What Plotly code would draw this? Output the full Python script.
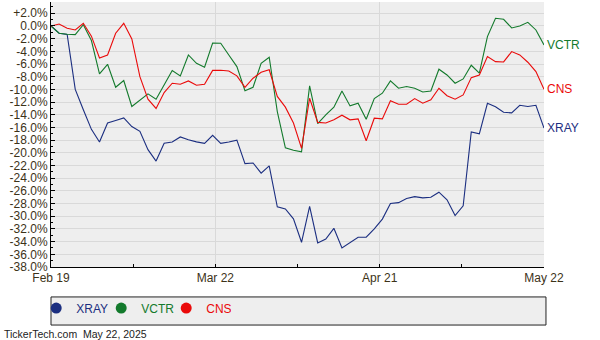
import plotly.graph_objects as go

# ---- data (percent change since Feb 19, one value per session) ----
xray = [0.0, -1.15, -1.35, -10.0, -13.2, -16.3, -18.3, -15.3, -14.9, -14.5,
        -15.85, -16.6, -19.5, -21.3, -18.5, -18.3, -17.5, -17.95, -18.27, -18.5,
        -17.25, -18.5, -18.3, -18.0, -21.7, -21.6, -23.2, -22.05, -28.5, -28.85,
        -30.4, -34.1, -28.45, -34.2, -33.6, -31.9, -35.0, -34.2, -33.3, -33.3,
        -32.0, -30.45, -28.0, -27.85, -27.2, -26.9, -27.1, -27.0, -26.2, -27.4,
        -29.9, -28.35, -16.7, -17.0, -12.2, -12.75, -13.6, -13.7, -12.5, -12.7,
        -12.5, -16.1]
vctr = [0.0, -1.15, -1.3, -1.36, 0.2, -2.3, -7.56, -6.04, -9.66, -8.6,
        -12.7, -11.65, -10.7, -11.55, -9.3, -7.03, -7.87, -4.57, -5.88, -6.5,
        -2.7, -2.73, -4.57, -6.4, -10.2, -9.66, -5.88, -4.93, -13.5, -19.2,
        -19.6, -19.85, -9.45, -15.4, -14.0, -12.8, -10.24, -12.6, -12.18, -14.7,
        -11.45, -10.6, -8.66, -9.82, -9.55, -9.82, -10.4, -10.24, -6.82, -7.72,
        -9.03, -8.35, -6.19, -7.45, -1.68, 1.21, 1.05, -0.31, 0.0, 0.58,
        -0.63, -2.99]
cns = [0.0, 0.3, -0.37, -0.63, 0.42, -1.6, -5.04, -4.57, -1.15, 0.42,
       -2.05, -8.0, -11.55, -13.0, -10.5, -9.03, -9.19, -8.66, -9.34, -9.19,
       -7.0, -6.98, -7.09, -7.87, -9.66, -8.24, -7.3, -6.9, -11.1, -12.8,
       -15.3, -19.3, -11.4, -15.2, -15.3, -14.8, -14.07, -14.8, -14.65, -18.1,
       -14.54, -14.65, -11.8, -12.34, -12.34, -11.44, -12.18, -11.65, -9.82, -11.0,
       -11.55, -10.87, -8.14, -7.72, -4.83, -5.62, -5.67, -4.04, -4.57, -5.72,
       -7.19, -9.97]

tick_labels = ["Feb 19", "Mar 22", "Apr 21", "May 22"]
y_ticks = list(range(-38, 3, 2))

names = ["XRAY", "VCTR", "CNS"]
series = [xray, vctr, cns]
colors = ["#1b2e80", "#137a2c", "#ea0a0a"]

n = len(xray)
x = list(range(n))
last = n - 1
major_x = [last * k / 3 for k in range(4)]
minor_x = [last * (2 * k + 1) / 6 for k in range(3)]

FONT = "Liberation Sans, Arial, sans-serif"
AXIS_TXT = "#3c3218"

fig = go.Figure()
for nm, vals, col in zip(names, series, colors):
    fig.add_trace(go.Scatter(x=x, y=vals, mode="lines", name=nm,
                             line=dict(color=col, width=1.1),
                             showlegend=False, hoverinfo="skip"))
for nm, col in zip(names, colors):
    fig.add_trace(go.Scatter(x=[None], y=[None], mode="markers",
                             name=f'<span style="color:{col}">{nm}</span>',
                             marker=dict(color=col, size=11)))

for nm, vals, col in zip(names, series, colors):
    fig.add_annotation(x=last, y=vals[-1], text=nm, showarrow=False,
                       xanchor="left", yanchor="middle", xshift=1,
                       font=dict(family=FONT, size=12, color=col))

fig.add_annotation(xref="paper", yref="paper", x=-49/494, y=-0.252,
                   text="TickerTech.com  May 22, 2025", showarrow=False,
                   xanchor="left", yanchor="middle",
                   font=dict(family=FONT, size=10.5, color="#222222"))

# legend box
fig.add_shape(type="rect", xref="paper", yref="paper",
              x0=0, x1=1.004, y0=-0.113, y1=-0.219,
              line=dict(color="#222222", width=1), fillcolor="#eeeeee",
              layer="below")

fig.update_layout(
    width=600, height=340,
    margin=dict(l=51, r=56, t=2, b=73),
    paper_bgcolor="white", plot_bgcolor="#eeeeee",
    font=dict(family=FONT, size=12, color=AXIS_TXT),
    legend=dict(orientation="h", x=-0.03, xanchor="left", y=-0.155, yanchor="middle",
                bgcolor="rgba(0,0,0,0)", font=dict(family=FONT, size=12),
                itemwidth=30, tracegroupgap=0,
                entrywidth=20, entrywidthmode="pixels"),
    xaxis=dict(range=[0, last], tickmode="array", tickvals=major_x, ticktext=tick_labels,
               showgrid=True, gridcolor="#d9d9d9", gridwidth=1,
               showline=True, linecolor="#000000", linewidth=1,
               ticks="inside", ticklen=3, tickcolor="#000000",
               tickfont=dict(family=FONT, size=12, color=AXIS_TXT),
               zeroline=False, fixedrange=True,
               minor=dict(tickmode="array", tickvals=minor_x, ticks="inside", ticklen=3,
                          tickcolor="#000000", showgrid=False)),
    yaxis=dict(range=[-38, 3.78], tickmode="array", tickvals=y_ticks,
               ticktext=[("+" if v > 0 else "") + f"{v:.1f}%" for v in y_ticks],
               showgrid=True, gridcolor="#d9d9d9", gridwidth=1,
               showline=True, linecolor="#000000", linewidth=1,
               ticks="inside", ticklen=4, tickcolor="#000000",
               tickfont=dict(family=FONT, size=12, color=AXIS_TXT),
               zeroline=False, fixedrange=True,
               minor=dict(tickmode="linear", tick0=-37, dtick=2, ticks="inside", ticklen=2,
                          tickcolor="#000000", showgrid=False)),
)

fig.write_html("out.html", config={"displayModeBar": False})
